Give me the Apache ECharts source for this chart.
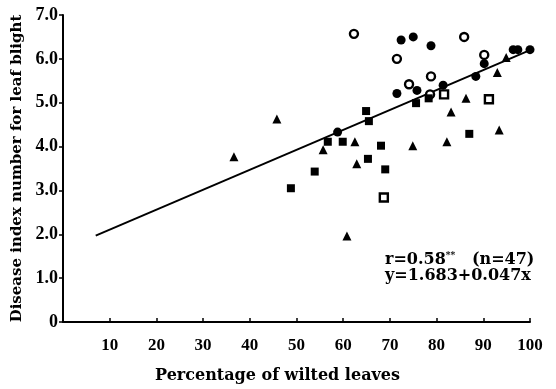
<!DOCTYPE html>
<html>
<head>
<meta charset="utf-8">
<script src="https://cdn.jsdelivr.net/npm/echarts@6/dist/echarts.min.js"></script>
<style>
  html, body { margin: 0; padding: 0; background: #fff; }
  #chart { width: 556px; height: 389px; }
</style>
</head>
<body>
<div id="chart"></div>
<script>
// values: [percentage of wilted leaves, disease index]
var filledCircles = [
  [72.4, 6.43], [75.0, 6.50], [78.8, 6.30], [90.2, 5.89], [96.4, 6.21],
  [97.4, 6.21], [100, 6.21], [88.4, 5.60], [81.4, 5.40], [75.8, 5.28],
  [71.5, 5.21], [58.8, 4.33]
];
var openCircles = [
  [62.3, 6.57], [71.5, 6.00], [85.9, 6.50], [90.2, 6.09], [78.8, 5.60],
  [74.1, 5.42], [78.6, 5.19]
];
var openSquares = [
  [81.6, 5.19], [91.2, 5.08], [68.7, 2.84]
];
var filledSquares = [
  [64.9, 4.81], [65.5, 4.58], [75.6, 4.99], [78.3, 5.10], [59.9, 4.11],
  [56.7, 4.11], [68.1, 4.02], [65.3, 3.72], [69.0, 3.48], [53.9, 3.43],
  [48.8, 3.05], [87.0, 4.29]
];
var triangles = [
  [36.6, 3.77], [45.8, 4.63], [55.7, 3.93], [62.5, 4.11], [62.9, 3.61],
  [60.8, 1.96], [74.9, 4.02], [82.2, 4.11], [83.1, 4.79], [86.3, 5.10],
  [93.4, 4.38], [93.0, 5.69], [94.9, 6.03]
];
// regression line y = 1.683 + 0.047x as drawn
var regLine = [[7, 1.97], [100, 6.2]];

var xTicks = [10, 20, 30, 40, 50, 60, 70, 80, 90, 100];
var yTicks = ['0', '1.0', '2.0', '3.0', '4.0', '5.0', '6.0', '7.0'];

var serif = '"Liberation Serif", "DejaVu Serif", serif';
var wide = '"DejaVu Serif", serif';
var myChart = echarts.init(document.getElementById('chart'));

function dots(data, symbol, size, open) {
  return {
    type: 'scatter',
    data: data,
    symbol: symbol,
    symbolSize: size,
    silent: true,
    itemStyle: open
      ? { color: '#fff', borderColor: '#000', borderWidth: 2.4, opacity: 1 }
      : { color: '#000', opacity: 1 },
    z: 3
  };
}

var option = {
  animation: false,
  backgroundColor: '#fff',
  grid: { left: 63, right: 26, top: 15, bottom: 64 },
  xAxis: {
    type: 'value',
    min: 0,
    max: 100,
    interval: 10,
    name: 'Percentage of wilted leaves',
    nameLocation: 'middle',
    nameGap: 46,
    nameTextStyle: {
      fontFamily: wide, fontWeight: 'bold', fontSize: 16, color: '#000',
      padding: [0, 38, 0, 0]
    },
    axisLine: { lineStyle: { color: '#000', width: 2 } },
    axisTick: { inside: true, length: 4, lineStyle: { color: '#000', width: 1.5 } },
    axisLabel: {
      margin: 15,
      fontFamily: serif, fontWeight: 'bold', fontSize: 17, color: '#000',
      formatter: function (v) { return xTicks.indexOf(v) >= 0 ? String(v) : ''; }
    },
    splitLine: { show: false }
  },
  yAxis: {
    type: 'value',
    min: 0,
    max: 7,
    interval: 1,
    name: 'Disease index number for leaf blight',
    nameLocation: 'middle',
    nameGap: 33,
    nameTextStyle: { fontFamily: wide, fontWeight: 'bold', fontSize: 15, color: '#000' },
    axisLine: { show: true, lineStyle: { color: '#000', width: 2 } },
    axisTick: { show: true, length: 4, lineStyle: { color: '#000', width: 1.5 } },
    axisLabel: {
      margin: 5,
      fontFamily: serif, fontWeight: 'bold', fontSize: 18, color: '#000',
      formatter: function (v) { return yTicks[Math.round(v)]; }
    },
    splitLine: { show: false }
  },
  series: [
    {
      type: 'line',
      data: regLine,
      symbol: 'none',
      silent: true,
      lineStyle: { color: '#000', width: 2 },
      z: 2
    },
    dots(filledCircles, 'circle', 9, false),
    dots(openCircles, 'circle', 8, true),
    dots(filledSquares, 'rect', 8, false),
    dots(openSquares, 'rect', 8, true),
    dots(triangles, 'triangle', 9, false)
  ],
  graphic: [
    {
      type: 'text',
      left: 385,
      top: 251,
      style: {
        text: '{t|r=0.58}{s|**}{t|   (n=47)}',
        rich: {
          t: { fontFamily: wide, fontWeight: 'bold', fontSize: 16, fill: '#000' },
          s: { fontFamily: wide, fontWeight: 'bold', fontSize: 9, fill: '#000', verticalAlign: 'top', padding: [0, 0, 8, 0] }
        }
      }
    },
    {
      type: 'text',
      left: 385,
      top: 268,
      style: {
        text: 'y=1.683+0.047x',
        font: 'bold 16px ' + wide,
        fill: '#000'
      }
    }
  ]
};

myChart.setOption(option);
</script>
</body>
</html>
